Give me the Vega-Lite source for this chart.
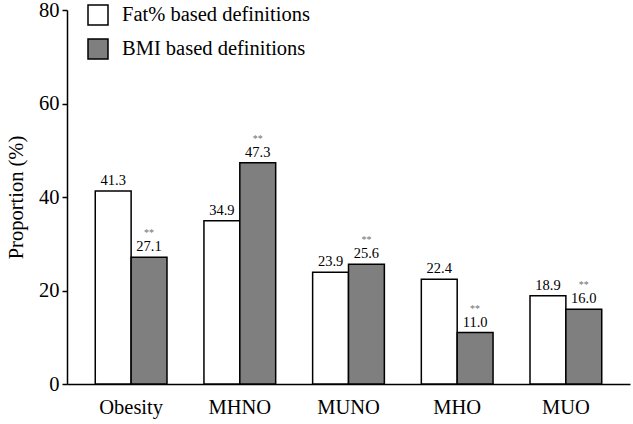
{
  "$schema": "https://vega.github.io/schema/vega-lite/v6.json",
  "autosize": "none",
  "width": 563,
  "height": 374,
  "padding": {"left": 67, "top": 10, "right": 3, "bottom": 40},
  "background": "white",
  "config": {
    "view": {"stroke": null},
    "font": "Liberation Serif, Times New Roman, DejaVu Serif, serif",
    "axis": {"labelFont": "Liberation Serif, Times New Roman, DejaVu Serif, serif", "titleFont": "Liberation Serif, Times New Roman, DejaVu Serif, serif", "domainColor": "black", "tickColor": "black", "labelColor": "black", "titleColor": "black"},
    "legend": {"labelFont": "Liberation Serif, Times New Roman, DejaVu Serif, serif"},
    "text": {"font": "Liberation Serif, Times New Roman, DejaVu Serif, serif"}
  },
  "data": {
    "values": [
      {"category": "Obesity", "def": "Fat% based definitions", "value": 41.3, "sig": ""},
      {"category": "Obesity", "def": "BMI based definitions", "value": 27.1, "sig": "**"},
      {"category": "MHNO", "def": "Fat% based definitions", "value": 34.9, "sig": ""},
      {"category": "MHNO", "def": "BMI based definitions", "value": 47.3, "sig": "**"},
      {"category": "MUNO", "def": "Fat% based definitions", "value": 23.9, "sig": ""},
      {"category": "MUNO", "def": "BMI based definitions", "value": 25.6, "sig": "**"},
      {"category": "MHO", "def": "Fat% based definitions", "value": 22.4, "sig": ""},
      {"category": "MHO", "def": "BMI based definitions", "value": 11.0, "sig": "**"},
      {"category": "MUO", "def": "Fat% based definitions", "value": 18.9, "sig": ""},
      {"category": "MUO", "def": "BMI based definitions", "value": 16.0, "sig": "**"}
    ]
  },
  "encoding": {
    "x": {
      "field": "category", "type": "nominal",
      "sort": ["Obesity", "MHNO", "MUNO", "MHO", "MUO"],
      "scale": {"paddingInner": 0.34, "paddingOuter": 0.26},
      "axis": {"title": null, "labelAngle": 0, "ticks": false, "labelFontSize": 20.5, "labelPadding": 13, "domainWidth": 1.5}
    },
    "xOffset": {
      "field": "def", "type": "nominal",
      "sort": ["Fat% based definitions", "BMI based definitions"],
      "scale": {"paddingInner": 0, "paddingOuter": 0}
    }
  },
  "layer": [
    {
      "mark": {"type": "bar", "stroke": "black", "strokeWidth": 1.5},
      "encoding": {
        "y": {
          "field": "value", "type": "quantitative",
          "scale": {"domain": [0, 80]},
          "axis": {"title": "Proportion (%)", "values": [0, 20, 40, 60, 80], "grid": false, "labelFontSize": 20.5, "titleFontSize": 20.5, "titleFontWeight": "normal", "tickSize": 5, "tickWidth": 1.5, "domainWidth": 1.5, "labelPadding": 3, "titlePadding": 12}
        },
        "fill": {
          "field": "def", "type": "nominal",
          "sort": ["Fat% based definitions", "BMI based definitions"],
          "scale": {"domain": ["Fat% based definitions", "BMI based definitions"], "range": ["white", "#7f7f7f"]},
          "legend": {
            "title": null, "orient": "none", "legendX": 20, "legendY": -6,
            "symbolType": "square", "symbolSize": 400, "symbolStrokeColor": "black", "symbolStrokeWidth": 1.5,
            "labelFontSize": 20.5, "labelColor": "black", "labelLimit": 0, "rowPadding": 8, "labelOffset": 13
          }
        }
      }
    },
    {
      "mark": {"type": "text", "baseline": "bottom", "dy": -3, "fontSize": 14.5, "color": "black"},
      "encoding": {
        "y": {"field": "value", "type": "quantitative"},
        "text": {"field": "value", "type": "quantitative", "format": ".1f"}
      }
    },
    {
      "transform": [{"filter": "datum.sig != ''"}],
      "mark": {"type": "text", "baseline": "bottom", "dy": -19, "fontSize": 10, "color": "#707070"},
      "encoding": {
        "y": {"field": "value", "type": "quantitative"},
        "text": {"field": "sig", "type": "nominal"}
      }
    }
  ]
}
